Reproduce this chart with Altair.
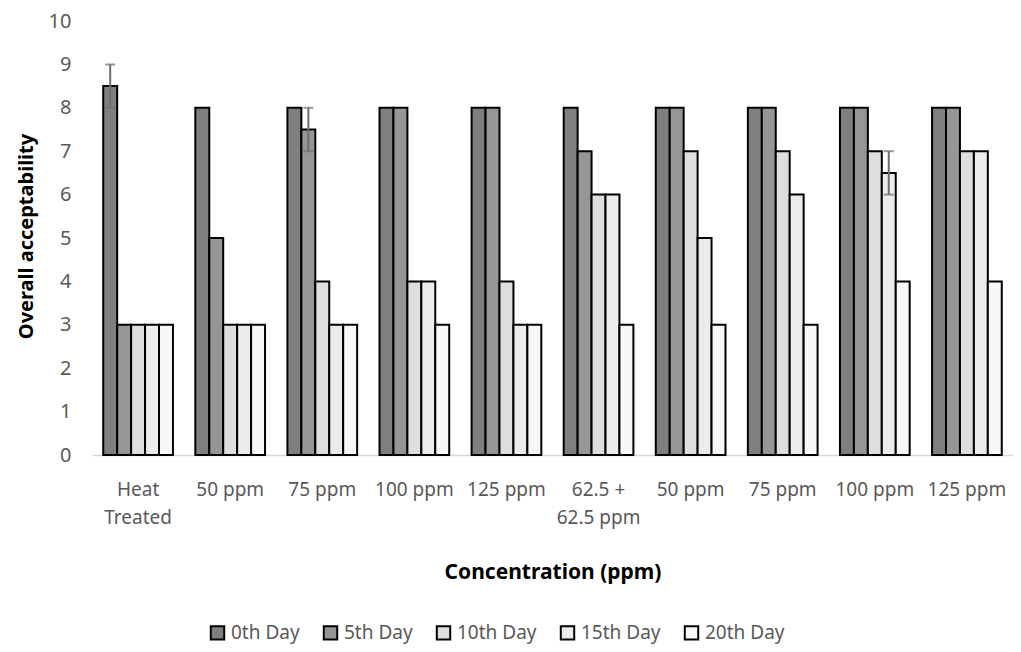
import altair as alt
import pandas as pd

groups = ["Heat Treated", "50 ppm", "75 ppm", "100 ppm", "125 ppm",
          "62.5 + 62.5 ppm", "50 ppm", "75 ppm", "100 ppm", "125 ppm"]
series = ["0th Day", "5th Day", "10th Day", "15th Day", "20th Day"]
day0 = [8.5, 8, 8, 8, 8, 8, 8, 8, 8, 8]
day5 = [3, 5, 7.5, 8, 8, 7, 8, 8, 8, 8]
day10 = [3, 3, 4, 4, 4, 6, 7, 7, 7, 7]
day15 = [3, 3, 3, 4, 3, 6, 5, 6, 6.5, 7]
day20 = [3, 3, 3, 3, 3, 3, 3, 3, 4, 4]
# error bars: (group index, series, low, high)
err_group = [0, 2, 8]
err_series = ["0th Day", "5th Day", "15th Day"]
err_low = [8, 7, 6]
err_high = [9, 8, 7]

fills = ["#7f7f7f", "#969696", "#dedede", "#ececec", "#f8f8f8"]

rows = []
for gi in range(len(groups)):
    for s, vals in zip(series, [day0, day5, day10, day15, day20]):
        rows.append({"g": gi, "s": s, "v": vals[gi]})
df = pd.DataFrame(rows)
edf = pd.DataFrame({"g": err_group, "s": err_series, "lo": err_low, "hi": err_high})

label_expr = ("[['Heat','Treated'],['50 ppm'],['75 ppm'],['100 ppm'],['125 ppm'],"
              "['62.5 +','62.5 ppm'],['50 ppm'],['75 ppm'],['100 ppm'],['125 ppm']][datum.value]")

FONT = "Noto Sans"

x_enc = alt.X("g:O", title="Concentration (ppm)",
              scale=alt.Scale(paddingInner=0.243, paddingOuter=0.122),
              axis=alt.Axis(labelExpr=label_expr, labelAngle=0, labelFontSize=19,
                            labelColor="#595959", labelPadding=25, labelLineHeight=28,
                            ticks=False, domainColor="#d9d9d9", domainWidth=1.5,
                            titleFontSize=21, titleFontWeight="bold", titleColor="black",
                            titlePadding=34, labelFont=FONT, titleFont=FONT))

bars = alt.Chart(df).mark_bar(stroke="black", strokeWidth=2).encode(
    x=x_enc,
    xOffset=alt.XOffset("s:N", sort=series, scale=alt.Scale(domain=series)),
    y=alt.Y("v:Q", title="Overall acceptability",
            scale=alt.Scale(domain=[0, 10]),
            axis=alt.Axis(values=list(range(0, 11)), grid=False, ticks=False, domain=False,
                          labelFontSize=20, labelColor="#595959", labelPadding=21,
                          titleFontSize=20, titleFontWeight="bold", titleColor="black",
                          titleX=-66, titleY=215, titleAngle=-90, titleAlign="center",
                          titleBaseline="middle", labelFont=FONT, titleFont=FONT)),
    fill=alt.Fill("s:N", sort=series, scale=alt.Scale(domain=series, range=fills),
                  legend=alt.Legend(title=None, orient="none", direction="horizontal",
                                    legendX=116, legendY=602, symbolType="square",
                                    symbolSize=180, symbolStrokeColor="black",
                                    symbolStrokeWidth=2, labelFontSize=19,
                                    labelColor="#595959", labelFont=FONT,
                                    columnPadding=19, labelOffset=4, padding=0)),
)

xo = alt.XOffset("s:N", sort=series, scale=alt.Scale(domain=series))
err = alt.Chart(edf).mark_rule(color="#6e6e6e", strokeWidth=2).encode(
    x="g:O", xOffset=xo, y="lo:Q", y2="hi:Q")
cap_top = alt.Chart(edf).mark_tick(color="#6e6e6e", thickness=2, size=10).encode(
    x="g:O", xOffset=xo, y="hi:Q")
cap_bot = alt.Chart(edf).mark_tick(color="#6e6e6e", thickness=2, size=10).encode(
    x="g:O", xOffset=xo, y="lo:Q")

chart = alt.layer(bars, err, cap_top, cap_bot).properties(
    width=921, height=434,
    autosize=alt.AutoSizeParams(type="none"),
    padding={"left": 84, "top": 13, "right": 0, "bottom": 189},
).configure(background="white").configure_view(strokeWidth=0, stroke="transparent")

chart.save("out.html", embed_options={"renderer": "svg", "actions": False})
